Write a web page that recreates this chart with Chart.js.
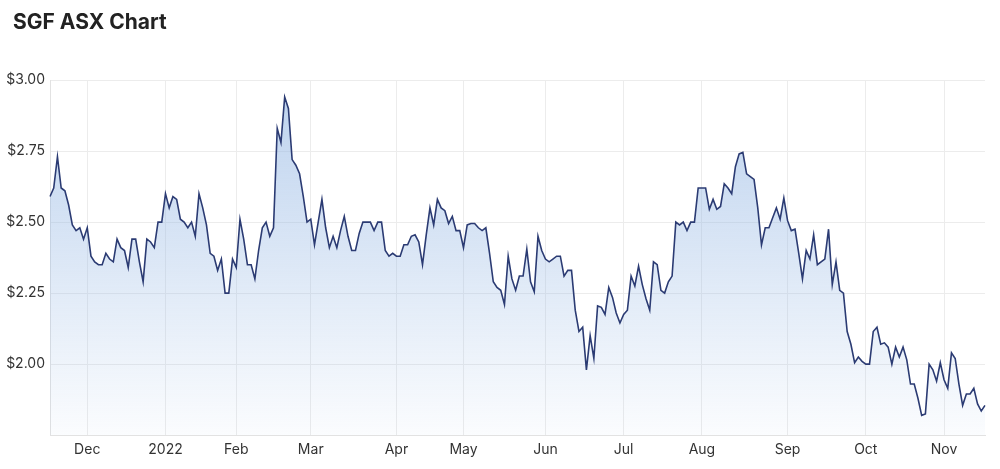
<!DOCTYPE html>
<html>
<head>
<meta charset="utf-8">
<title>SGF ASX Chart</title>
<script src="https://cdn.jsdelivr.net/npm/chart.js@4.4.1/dist/chart.umd.min.js"></script>
<style>
    html, body { margin: 0; padding: 0; background: #fff; }
    #caixa { position: relative; width: 1000px; height: 469px; }
    #titulo {
        position: absolute; left: 13px; top: 9px; margin: 0;
        font: bold 21px/25px Inter, 'Liberation Sans', sans-serif; color: #222;
    }
</style>
</head>
<body>
<div id="caixa">
    <canvas id="graficoSgf" width="1000" height="469"></canvas>
    <h1 id="titulo"></h1>
</div>
<script>
const titulo = "SGF ASX Chart";

// month tick labels and how many trading days each month has in the window (Nov 2021 .. Nov 2022)
const rotulosMeses = ["", "Dec", "2022", "Feb", "Mar", "Apr", "May", "Jun", "Jul", "Aug", "Sep", "Oct", "Nov"];
const diasPorMes = [10, 21, 19, 20, 23, 18, 22, 21, 21, 23, 21, 21, 12];

// daily close, AUD
const precos = [
    2.59, 2.62, 2.73, 2.62, 2.61, 2.56, 2.49, 2.47, 2.48, 2.44,
    2.48, 2.38, 2.36, 2.35, 2.35, 2.39, 2.37, 2.36, 2.44, 2.41,
    2.40, 2.34, 2.44, 2.44, 2.36, 2.29, 2.44, 2.43, 2.41, 2.50,
    2.50, 2.60, 2.55, 2.59, 2.58, 2.51, 2.50, 2.48, 2.50, 2.45,
    2.60, 2.55, 2.49, 2.39, 2.38, 2.33, 2.37, 2.25, 2.25, 2.37,
    2.34, 2.51, 2.44, 2.35, 2.35, 2.30, 2.40, 2.48, 2.50, 2.45,
    2.48, 2.83, 2.78, 2.94, 2.90, 2.72, 2.70, 2.67, 2.59, 2.50,
    2.51, 2.42, 2.50, 2.58, 2.48, 2.41, 2.45, 2.41, 2.47, 2.52,
    2.45, 2.40, 2.40, 2.46, 2.50, 2.50, 2.50, 2.47, 2.50, 2.50,
    2.40, 2.38, 2.39, 2.38, 2.38, 2.42, 2.42, 2.45, 2.455, 2.43,
    2.35, 2.455, 2.55, 2.49, 2.58, 2.55, 2.54, 2.495, 2.52, 2.47,
    2.47, 2.41, 2.49, 2.495, 2.495, 2.48, 2.47, 2.48, 2.39, 2.29,
    2.27, 2.26, 2.21, 2.38, 2.30, 2.26, 2.31, 2.31, 2.405, 2.29,
    2.255, 2.45, 2.40, 2.37, 2.36, 2.37, 2.38, 2.38, 2.31, 2.33,
    2.33, 2.19, 2.115, 2.13, 1.98, 2.10, 2.02, 2.205, 2.20, 2.175,
    2.27, 2.235, 2.18, 2.145, 2.175, 2.19, 2.31, 2.275, 2.345, 2.28,
    2.23, 2.19, 2.36, 2.35, 2.26, 2.25, 2.29, 2.31, 2.50, 2.49,
    2.50, 2.47, 2.50, 2.50, 2.62, 2.62, 2.62, 2.545, 2.58, 2.545,
    2.555, 2.635, 2.62, 2.60, 2.695, 2.74, 2.745, 2.67, 2.66, 2.65,
    2.55, 2.42, 2.48, 2.48, 2.515, 2.55, 2.51, 2.585, 2.505, 2.47,
    2.475, 2.39, 2.30, 2.40, 2.37, 2.455, 2.35, 2.36, 2.37, 2.475,
    2.28, 2.36, 2.26, 2.25, 2.115, 2.07, 2.005, 2.025, 2.01, 2.00,
    2.00, 2.115, 2.13, 2.07, 2.075, 2.06, 2.00, 2.06, 2.025, 2.06,
    2.015, 1.93, 1.93, 1.88, 1.82, 1.825, 2.00, 1.98, 1.94, 2.005,
    1.945, 1.915, 2.04, 2.02, 1.93, 1.855, 1.895, 1.895, 1.915, 1.86,
    1.835, 1.855
];

const limitesY = [1.75, 3.00];
const passoY = 0.25;

document.getElementById("titulo").textContent = titulo;

// one category per trading day, month name only on the first day of the month
function montaRotulos() {
    const rotulos = [];
    diasPorMes.forEach((dias, i) => {
        for (let d = 0; d < dias; d++) {
            rotulos.push(d === 0 ? rotulosMeses[i] : "");
        }
    });
    return rotulos;
}

function preenchimento(context) {
    const { ctx, chartArea } = context.chart;
    if (!chartArea) return "rgba(170,196,232,0.4)";
    const grad = ctx.createLinearGradient(0, chartArea.top, 0, chartArea.bottom);
    grad.addColorStop(0, "rgba(150,184,228,0.64)");
    grad.addColorStop(1, "rgba(150,184,228,0.04)");
    return grad;
}

const rotulos = montaRotulos();
const fonteEixo = { family: "Inter, 'Liberation Sans', sans-serif", size: 14 };

const graficoSgf = new Chart(document.getElementById("graficoSgf"), {
    type: "line",
    data: {
        labels: rotulos,
        datasets: [
            {
                label: "SGF",
                data: precos,
                borderColor: "#2b3b73",
                borderWidth: 1.6,
                pointRadius: 0,
                tension: 0,
                fill: "start",
                backgroundColor: preenchimento,
            },
        ],
    },
    options: {
        responsive: false,
        animation: false,
        layout: { padding: { left: 3, right: 15, top: 80, bottom: 5 } },
        plugins: {
            legend: { display: false },
            tooltip: { enabled: false },
        },
        scales: {
            x: {
                grid: { color: "#ececec", drawTicks: false },
                border: { color: "#e2e2e2" },
                ticks: {
                    autoSkip: false,
                    maxRotation: 0,
                    color: "#333",
                    font: fonteEixo,
                    padding: 6,
                    callback: function (valor) {
                        const r = this.getLabelForValue(valor);
                        return r === "" ? null : r;
                    },
                },
            },
            y: {
                min: limitesY[0],
                max: limitesY[1],
                afterFit: (escala) => { escala.width = 47; },
                grid: { color: "#ececec", drawTicks: false },
                border: { color: "#e2e2e2" },
                ticks: {
                    stepSize: passoY,
                    color: "#333",
                    font: fonteEixo,
                    padding: 5,
                    callback: (valor) => (valor < 1.9 ? null : "$" + valor.toFixed(2)),
                },
            },
        },
    },
});
</script>
</body>
</html>
